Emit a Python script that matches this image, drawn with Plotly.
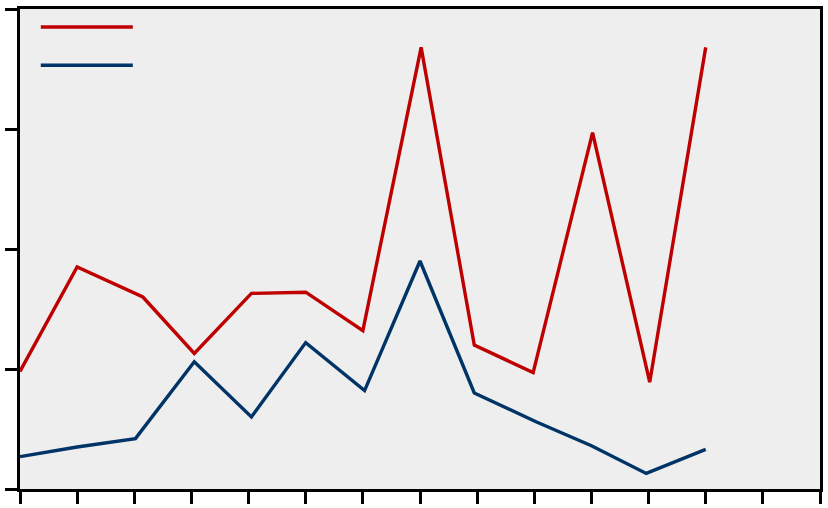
import plotly.graph_objects as go

red_x = [0, 1, 2.15, 3.05, 4.05, 5, 6, 7.02, 7.95, 8.98, 10.02, 11.02, 12]
red_y = [0.98, 1.85, 1.60, 1.13, 1.63, 1.64, 1.32, 3.68, 1.20, 0.97, 2.97, 0.89, 3.68]

blue_x = [0, 1, 2.02, 3.05, 4.05, 5, 6.03, 7, 7.95, 9.03, 10, 10.96, 12]
blue_y = [0.27, 0.35, 0.42, 1.06, 0.60, 1.22, 0.82, 1.90, 0.80, 0.56, 0.36, 0.13, 0.33]

RED = "#BE0000"
BLUE = "#003366"

fig = go.Figure()
fig.add_trace(go.Scatter(x=red_x, y=red_y, mode="lines",
                         line=dict(color=RED, width=3.4), showlegend=False))
fig.add_trace(go.Scatter(x=blue_x, y=blue_y, mode="lines",
                         line=dict(color=BLUE, width=3.4), showlegend=False))

# legend glyphs (no text in the original)
fig.add_shape(type="line", xref="paper", yref="paper",
              x0=0.026, x1=0.141, y0=0.9625, y1=0.9625,
              line=dict(color=RED, width=3.5))
fig.add_shape(type="line", xref="paper", yref="paper",
              x0=0.026, x1=0.141, y0=0.883, y1=0.883,
              line=dict(color=BLUE, width=3.5))

axis_common = dict(showgrid=False, zeroline=False, showline=True,
                   linecolor="black", linewidth=2.5, mirror=True,
                   ticks="outside", ticklen=12, tickwidth=2.5, tickcolor="black",
                   showticklabels=False, automargin=False)

fig.update_xaxes(range=[0, 14], dtick=1, tick0=0, **axis_common)
fig.update_yaxes(range=[0, 4], dtick=1, tick0=0, **axis_common)

fig.update_layout(
    width=828, height=508,
    margin=dict(l=20, r=8, t=9, b=19, autoexpand=False),
    plot_bgcolor="#EEEEEE",
    paper_bgcolor="white",
    showlegend=False,
)

fig.write_html(
    "out.html",
    config={"displayModeBar": False},
    post_script="document.body.style.margin='0';document.body.style.overflow='hidden';",
)
